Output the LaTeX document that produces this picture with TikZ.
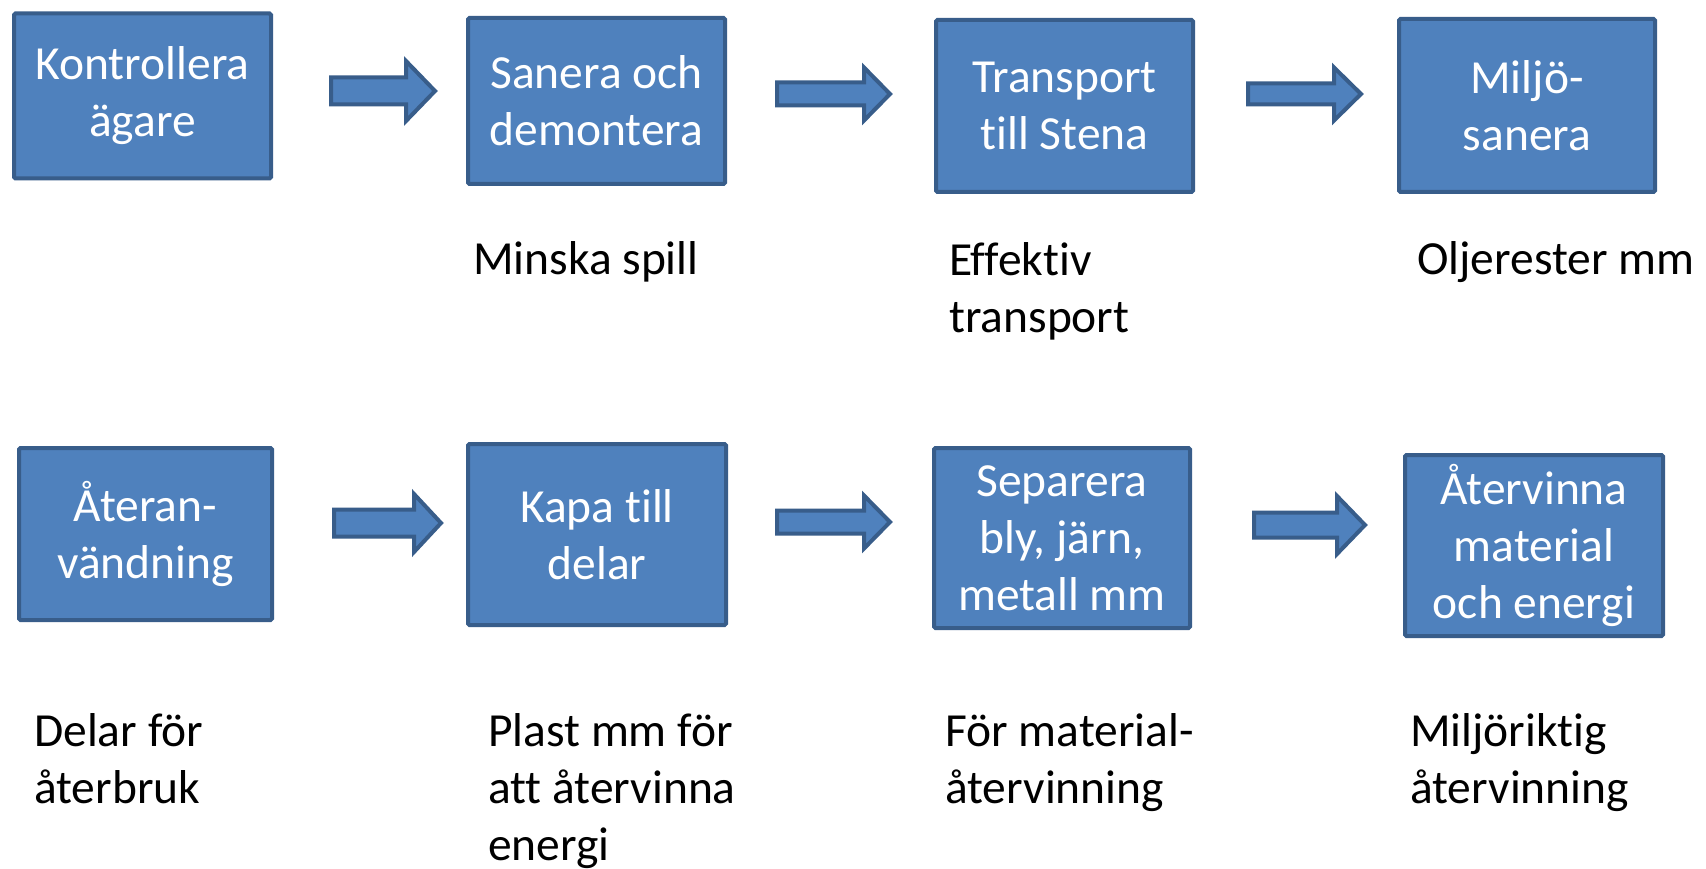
\documentclass[tikz,border=0pt]{standalone}
\usepackage{fontspec}
\setmainfont{Carlito}[Ligatures=NoCommon]
\definecolor{boxfill}{HTML}{4F81BD}
\definecolor{boxline}{HTML}{385D8A}
\tikzset{
  stepbox/.style={draw=boxline, fill=boxfill, line width=4pt, rounded corners=1.5pt,
    text=white, align=center, font=\fontsize{47.5}{57}\selectfont, inner sep=0pt},
  note/.style={anchor=base west, align=left, font=\fontsize{47.5}{57}\selectfont, inner sep=0pt},
  blockarrow/.style={draw=boxline, fill=boxfill, line width=4pt, line join=miter}
}
% x1, x2, y, head half height, shaft half height, head length
\newcommand{\blockarr}[6]{%
  \draw[blockarrow] (#1,{#3-#5}) -- ({#2-#6},{#3-#5}) -- ({#2-#6},{#3-#4}) -- (#2,#3)
    -- ({#2-#6},{#3+#4}) -- ({#2-#6},{#3+#5}) -- (#1,{#3+#5}) -- cycle;}
\begin{document}
\begin{tikzpicture}[x=1pt,y=-1pt]
\fill[white] (0,0) rectangle (1706,869);
\useasboundingbox (0,0) rectangle (1706,869);

% top row
\node[stepbox, minimum width=257pt, minimum height=165pt] (b1) at (142.5,96) {Kontrollera\\ägare};
\node[stepbox, minimum width=257pt, minimum height=166pt] (b2) at (596.5,101) {Sanera och\\demontera};
\node[stepbox, minimum width=257pt, minimum height=172pt] (b3) at (1064.5,106) {Transport\\till Stena};
\node[stepbox, minimum width=256pt, minimum height=173pt] (b4) at (1527,105.5) {Miljö-\\sanera};

% bottom row
\node[stepbox, minimum width=253pt, minimum height=172pt] (b5) at (145.5,534) {Återan-\\vändning};
\node[stepbox, minimum width=258pt, minimum height=181pt] (b6) at (597,534.5) {Kapa till\\delar};
\node[stepbox, minimum width=256pt, minimum height=180pt] (b7) at (1062,538) {Separera\\bly, järn,\\metall mm};
\node[stepbox, minimum width=258pt, minimum height=181pt] (b8) at (1534,545.5) {Återvinna\\material\\och energi};

% block arrows
\blockarr{331}{435}{91}{30}{13.5}{29}
\blockarr{777}{890}{94}{26.5}{11.5}{26}
\blockarr{1248}{1361}{94}{26.5}{10.5}{27}
\blockarr{334}{441}{523}{29}{13.5}{27}
\blockarr{777}{890}{522}{26.5}{11.5}{26}
\blockarr{1254}{1365}{525}{29}{12.5}{28}

% notes (anchored at the baseline of their last line)
\node[note] (l2) at (473,275) {Minska spill};
\node[note] (l3) at (949,332) {Effektiv\\transport};
\node[note] (l4) at (1417,275) {Oljerester mm};
\node[note] (l5) at (34,803) {Delar för\\återbruk};
\node[note] (l6) at (488,860) {Plast mm för\\att återvinna\\energi};
\node[note] (l7) at (945,803) {För material-\\återvinning};
\node[note] (l8) at (1410,803) {Miljöriktig\\återvinning};
\end{tikzpicture}
\end{document}
